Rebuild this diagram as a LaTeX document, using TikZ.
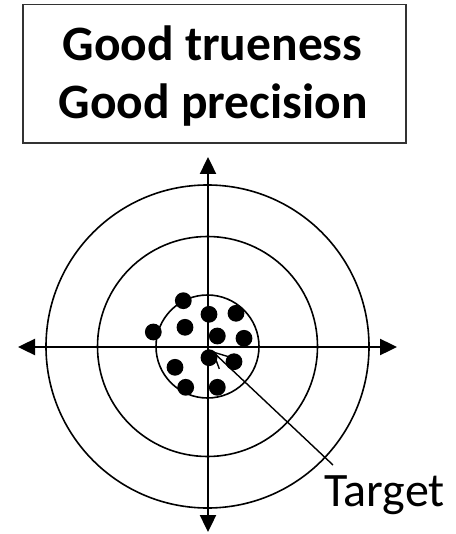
\documentclass[tikz,border=0pt]{standalone}
\usepackage{fontspec}
\setmainfont{Carlito}
\usetikzlibrary{arrows.meta}
\begin{document}
\begin{tikzpicture}[x=1pt,y=-1pt,
  axis/.style={line width=2.4pt,{Triangle[length=17pt,width=16pt]}-{Triangle[length=17pt,width=16pt]}},
  ring/.style={line width=1.6pt},
  dot/.style={fill=black},
  titletext/.style={font=\fontsize{49.5}{58}\selectfont\bfseries, inner sep=0pt, anchor=base},
  frame/.style={draw=black!80, line width=1.5pt, minimum width=383pt, minimum height=138.5pt, inner sep=0pt}]
\useasboundingbox (0,0) rectangle (455,534);
% title box
\node[frame] (box) at (214.3,74) {};
\node[titletext] (t1) at (212.5,61) {Good trueness};
\node[titletext] (t2) at (213,119) {Good precision};
% target
\coordinate (c) at (207.5,346.5);
\draw[ring] (c) circle[radius=161.5];
\draw[ring] (c) circle[radius=110];
\draw[ring] (c) circle[radius=51.5];
\coordinate (top) at (208,157);
\coordinate (bottom) at (208,532);
\coordinate (left) at (18,347);
\coordinate (right) at (397,347);
\draw[axis] (left) -- (right);
\draw[axis] (bottom) -- (top);
% target label and arrow
\node[font=\fontsize{48}{52}\selectfont, inner sep=0pt, anchor=base west] (tg) at (324,506) {Target};
\coordinate (ts) at (333,465);
\coordinate (tip) at (212,351);
\draw[line width=1.4pt, -{Straight Barb[length=16pt,width=16pt,line width=1.4pt]}] (ts) -- (tip);
% shots
\foreach \x/\y in {183.3/300.7, 209/314.3, 236/313.3, 153.3/332, 185/327.3, 217.3/336, 244/338.3, 209/357.7, 234/361.7, 175/367.3, 185.7/387.3, 217.3/387.3}
  \fill[dot] (\x,\y) circle[radius=8.4];
\end{tikzpicture}
\end{document}
